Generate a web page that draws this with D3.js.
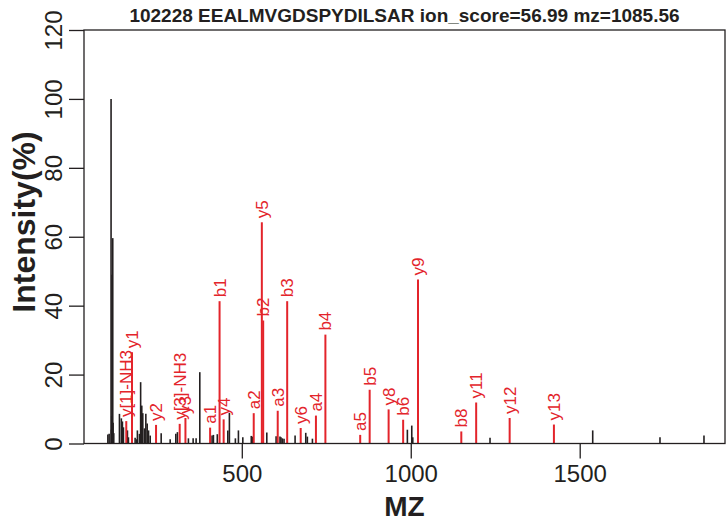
<!DOCTYPE html>
<html>
<head>
<meta charset="utf-8">
<script src="https://cdn.jsdelivr.net/npm/d3@7"></script>
<style>
  body { margin: 0; background: #fff; }
  svg { font-family: "Liberation Sans", Arial, sans-serif; }
</style>
</head>
<body>
<div id="chart"></div>
<script>
// observed peaks (black)
const peakMz = [103.6, 107.4, 113.1, 114.1, 115.1, 116.1, 117.1, 118.1, 119.1, 121.1,
  137.9, 143.5, 146.7, 149.7, 161.5, 164.5, 184.3, 189.3, 191, 197,
  200.6, 204, 207, 212, 216, 220, 224, 229, 261.4, 288,
  304.7, 309.5, 342, 356, 364.8, 375.7, 412, 416, 427.5, 458.6,
  463.3, 481, 490, 503, 528, 532, 574, 601.5, 613, 616,
  620, 625, 657.7, 689.3, 694, 709, 990, 1003, 1006, 1234.6,
  1538.5, 1737.6, 1867.8];
const peakInt = [2.6, 2.8, 100, 4, 8, 49, 5, 59.6, 6, 3,
  8.6, 7.3, 6.4, 4.7, 3.8, 1.8, 1.7, 1.2, 3.8, 2.8,
  17.8, 11, 8.8, 4.4, 8.6, 5.8, 3.8, 2.3, 3.0, 1.2,
  2.8, 3.3, 1.5, 1.5, 1.5, 20.7, 2.3, 2.5, 2.7, 3.8,
  8.9, 1.5, 3.8, 1.8, 2.2, 2.0, 3.2, 2.1, 2.0, 1.8,
  1.5, 1.4, 2.3, 3.1, 2.0, 1.4, 4.0, 5.2, 1.8, 1.7,
  3.8, 1.8, 2.3];

// matched fragment ions (red)
const ionLabels = ["y[1]-NH3", "y1", "y2", "y[3]-NH3", "y3", "a1", "b1", "y4", "a2", "y5",
  "b2", "a3", "b3", "y6", "a4", "b4", "a5", "b5", "y8", "b6",
  "y9", "b8", "y11", "y12", "y13"];
const ionMz = [158.1, 175.1, 246.2, 316.2, 333.2, 406.2, 434.2, 446.3, 535.3, 559.3,
  563.3, 606.3, 634.3, 674.3, 719.4, 747.4, 850.4, 878.4, 934.5, 977.5,
  1021.5, 1149.6, 1193.6, 1292.7, 1423.7];
const ionInt = [6.5, 26.5, 5.4, 5.7, 7.4, 4.6, 41.3, 7.0, 8.8, 64.2,
  35.7, 9.5, 41.3, 4.5, 8.1, 31.6, 2.5, 15.6, 9.9, 6.9,
  47.6, 3.5, 11.9, 7.4, 5.5];

const xTicks = [500, 1000, 1500];
const yTicks = [0, 20, 40, 60, 80, 100, 120];
const title = "102228 EEALMVGDSPYDILSAR ion_score=56.99 mz=1085.56";

function init() {
    var w = 728, h = 527;
    var left = 84, right = 725, top = 30, bottom = 443.5;
    var ink = "#231f20", red = "#e3242b";

    var svg = d3.select("#chart").append("svg")
        .attr("width", w)
        .attr("height", h);

    var x = d3.scaleLinear().domain([33, 1930]).range([left, right]);
    var y = d3.scaleLinear().domain([0, 120]).range([bottom, top]);

    // black peaks
    svg.append("g").selectAll("line")
        .data(peakMz.map((m, i) => [m, peakInt[i]]))
        .join("line")
        .attr("x1", d => x(d[0])).attr("x2", d => x(d[0]))
        .attr("y1", y(0)).attr("y2", d => y(d[1]))
        .attr("stroke", ink).attr("stroke-width", 1.6);

    // matched ions
    var ions = ionLabels.map((l, i) => ({ label: l, mz: ionMz[i], v: ionInt[i] }));
    svg.append("g").selectAll("line")
        .data(ions)
        .join("line")
        .attr("x1", d => x(d.mz)).attr("x2", d => x(d.mz))
        .attr("y1", y(0)).attr("y2", d => y(d.v))
        .attr("stroke", red).attr("stroke-width", 2);

    svg.append("g").selectAll("text")
        .data(ions)
        .join("text")
        .attr("transform", d => `translate(${x(d.mz) + 6},${y(d.v) - 4}) rotate(-90)`)
        .attr("fill", red)
        .style("font-size", "17px")
        .text(d => d.label);

    // box
    svg.append("rect")
        .attr("x", left).attr("y", top)
        .attr("width", right - left).attr("height", bottom - top)
        .attr("fill", "none").attr("stroke", ink).attr("stroke-width", 1.3);

    // axes
    var xAxis = svg.append("g")
        .attr("transform", `translate(0,${bottom})`)
        .call(d3.axisBottom(x).tickValues(xTicks).tickFormat(d3.format("d")).tickSize(15).tickPadding(6));
    xAxis.select(".domain").remove();
    xAxis.selectAll("line").attr("stroke", ink).attr("stroke-width", 1.3);
    xAxis.selectAll("text").attr("fill", ink).style("font-size", "24px").style("font-family", "Liberation Sans, Arial, sans-serif");

    var yAxis = svg.append("g")
        .attr("transform", `translate(${left},0)`)
        .call(d3.axisLeft(y).tickValues(yTicks).tickSize(15));
    yAxis.select(".domain").remove();
    yAxis.selectAll("line").attr("stroke", ink).attr("stroke-width", 1.3);
    yAxis.selectAll("text")
        .attr("transform", "rotate(-90)")
        .attr("x", 0).attr("y", -22).attr("dy", 0)
        .style("text-anchor", "middle")
        .attr("fill", ink).style("font-size", "24px").style("font-family", "Liberation Sans, Arial, sans-serif");

    // titles
    svg.append("text")
        .attr("x", (left + right) / 2).attr("y", 22)
        .style("text-anchor", "middle").style("font-weight", "bold").style("font-size", "19px")
        .attr("fill", ink).text(title);

    svg.append("text")
        .attr("x", (left + right) / 2).attr("y", 516)
        .style("text-anchor", "middle").style("font-weight", "bold").style("font-size", "28px")
        .attr("fill", ink).text("MZ");

    svg.append("text")
        .attr("transform", "translate(35,222) rotate(-90)")
        .style("text-anchor", "middle").style("font-weight", "bold").style("font-size", "32px")
        .attr("fill", ink).text("Intensity(%)");
}

window.onload = init;
</script>
</body>
</html>
